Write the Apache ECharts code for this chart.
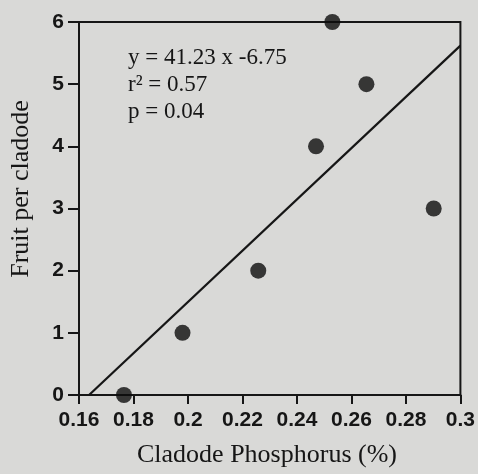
<!DOCTYPE html>
<html>
<head>
<meta charset="utf-8">
<script src="https://cdn.jsdelivr.net/npm/echarts@6/dist/echarts.min.js"></script>
<style>
html,body{margin:0;padding:0;background:#d9d9d7;}
#c{width:478px;height:474px;}
</style>
</head>
<body>
<div id="c"></div>
<script>
// Data
var phosphorus = [0.1765, 0.198, 0.2258, 0.247, 0.253, 0.2655, 0.2902];
var fruitPerCladode = [0, 1, 2, 4, 6, 5, 3];
// Regression line endpoints (y = 41.23 x - 6.75)
var fitX = [0.1637, 0.3];
var fitY = [0, 5.62];
var xTicks = [0.16, 0.18, 0.2, 0.22, 0.24, 0.26, 0.28, 0.3];
var yTicks = [0, 1, 2, 3, 4, 5, 6];
var annotationLines = ['y = 41.23 x -6.75', 'r\u00B2 = 0.57', 'p = 0.04'];
var xTitle = 'Cladode Phosphorus (%)';
var yTitle = 'Fruit per cladode';

var ink = '#161616';
var chart = echarts.init(document.getElementById('c'));
chart.setOption({
  backgroundColor: '#d9d9d7',
  animation: false,
  grid: {left: 79, right: 16, top: 22, bottom: 79, show: true, borderColor: ink, borderWidth: 2, backgroundColor: 'transparent'},
  xAxis: {
    type: 'value', min: xTicks[0], max: xTicks[xTicks.length - 1], interval: 0.02,
    axisLine: {lineStyle: {color: ink, width: 2}},
    axisTick: {show: true, inside: false, length: 9, lineStyle: {color: ink, width: 2}},
    splitLine: {show: false},
    axisLabel: {margin: 15, color: ink, fontSize: 21, fontWeight: 'bold', fontFamily: 'Liberation Sans, Arial, sans-serif',
      formatter: function (v) { return String(+v.toFixed(2)); }}
  },
  yAxis: {
    type: 'value', min: yTicks[0], max: yTicks[yTicks.length - 1], interval: 1,
    axisLine: {lineStyle: {color: ink, width: 2}},
    axisTick: {show: true, inside: false, length: 11, lineStyle: {color: ink, width: 2}},
    splitLine: {show: false},
    axisLabel: {margin: 15, color: ink, fontSize: 21, fontWeight: 'bold', fontFamily: 'Liberation Sans, Arial, sans-serif'}
  },
  series: [
    {
      type: 'line',
      data: fitX.map(function (x, i) { return [x, fitY[i]]; }),
      symbol: 'none',
      lineStyle: {color: ink, width: 2.2},
      z: 2
    },
    {
      type: 'scatter',
      data: phosphorus.map(function (x, i) { return [x, fruitPerCladode[i]]; }),
      symbol: 'circle',
      symbolSize: 16,
      itemStyle: {color: '#0d0d0d'},
      z: 3
    }
  ],
  graphic: [
    {
      type: 'text', left: 128, top: 44,
      style: {text: annotationLines.join('\n'), font: '23px "Liberation Serif", "Times New Roman", serif', fill: ink, lineHeight: 27}
    },
    {
      type: 'text', x: 267, y: 455,
      style: {text: xTitle, font: '26px "Liberation Serif", "Times New Roman", serif', fill: ink, align: 'center', verticalAlign: 'middle'}
    },
    {
      type: 'text',
      x: 21, y: 189,
      rotation: Math.PI / 2,
      style: {text: yTitle, font: '26px "Liberation Serif", "Times New Roman", serif', fill: ink, align: 'center', verticalAlign: 'middle'}
    }
  ]
});
</script>
</body>
</html>
